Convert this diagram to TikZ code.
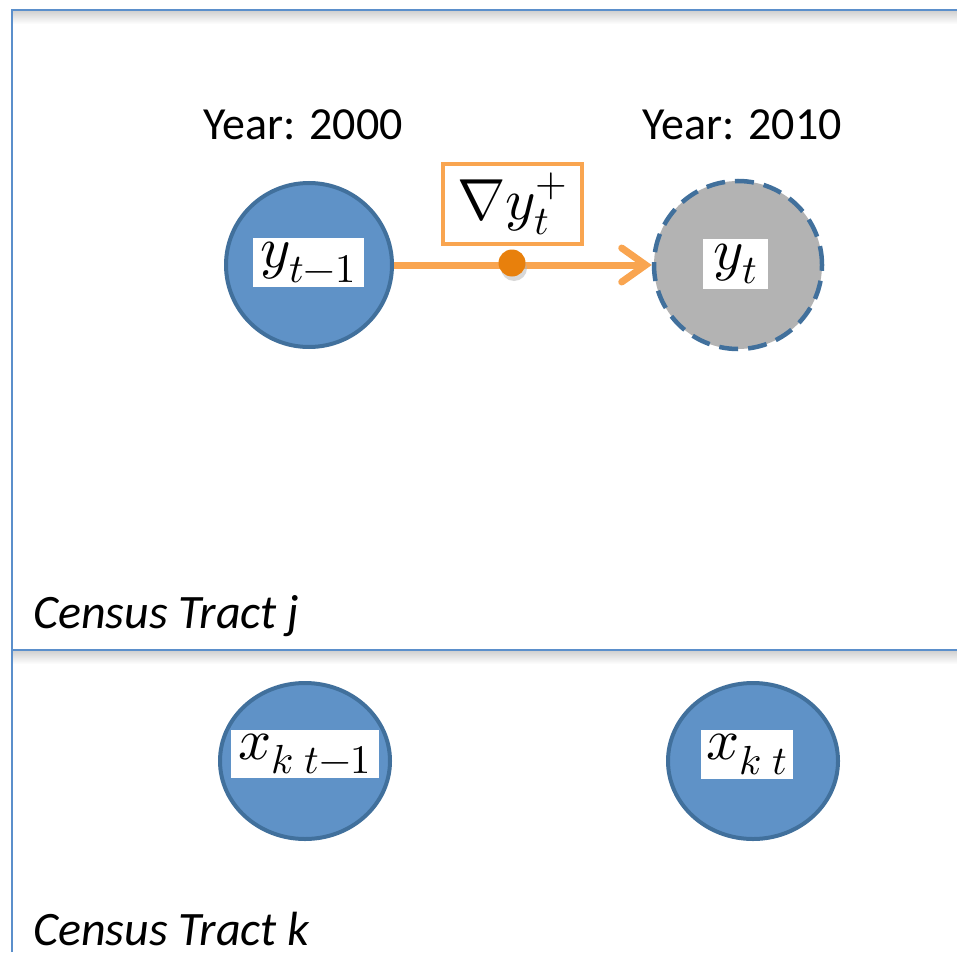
\documentclass[tikz,border=0pt]{standalone}
\usepackage{fontspec}
\usepackage{unicode-math}
\setmathfont{Latin Modern Math}
\newfontfamily\carl{Carlito}
\usetikzlibrary{arrows.meta,shapes.geometric}
\definecolor{cfill}{HTML}{5F92C7}
\definecolor{cline}{HTML}{41709C}
\definecolor{frameblue}{HTML}{5B8FCB}
\definecolor{oline}{HTML}{F9A550}
\definecolor{odot}{HTML}{E8800C}
\definecolor{gfill}{HTML}{B3B3B3}
\tikzset{
  bluecirc/.style={ellipse, draw=cline, fill=cfill, line width=4pt, inner sep=0pt},
  graycirc/.style={circle, draw=cline, fill=gfill, line width=4.5pt, dash pattern=on 19pt off 10pt, inner sep=0pt},
  lab/.style={fill=white, inner sep=0pt, font=\fontsize{58}{66}\selectfont},
  obox/.style={draw=oline, fill=white, line width=4pt, inner sep=0pt, font=\fontsize{58}{66}\selectfont},
  yeartext/.style={font=\carl\fontsize{46}{54}\selectfont},
  tracttext/.style={font=\carl\itshape\fontsize{48}{56}\selectfont, anchor=base west, inner sep=0pt},
  frameline/.style={draw=frameblue, line width=2pt},
  oarrow/.style={draw=oline, line width=7pt, -{Straight Barb[length=24pt,width=34pt,line cap=round]}},
  odotst/.style={circle, fill=odot, minimum size=27pt, inner sep=0pt},
}
\begin{document}
\begin{tikzpicture}[x=1pt,y=-1pt]
\useasboundingbox (0,0) rectangle (957,952);
% shadows
\shade[top color=black!18, bottom color=white] (13,11) rectangle (957,24);
\shade[top color=black!18, bottom color=white] (13,651) rectangle (957,664);
% frame
\draw[frameline] (12,952) -- (12,10) -- (957,10);
\draw[frameline] (12,650) -- (957,650);
% year labels
\node[yeartext] (yr1) at (303,125) {Year: 2000};
\node[yeartext] (yr2) at (742,125) {Year: 2010};
% circles
\node[bluecirc, minimum width=166pt, minimum height=164pt] (y1) at (309,265) {};
\node[graycirc, minimum size=168pt] (y2) at (738,265) {};
\node[bluecirc, minimum width=170pt, minimum height=156pt] (x1) at (305,761) {};
\node[bluecirc, minimum width=170pt, minimum height=156pt] (x2) at (753,761) {};
% labels
\node[lab, minimum width=111pt, minimum height=49pt] (l1) at (308.5,262.5) {$y_{t-1}$};
\node[lab, minimum width=65pt, minimum height=50pt] (l2) at (735.5,264) {$y_t$};
\node[lab, minimum width=148pt, minimum height=48pt] (l3) at (305,754) {$x_{k\;t-1}$};
\node[lab, minimum width=92pt, minimum height=49pt] (l4) at (747,754.5) {$x_{k\;t}$};
% arrow
\draw[oarrow] (y1) -- (y2);
\node[obox, minimum width=139pt, minimum height=80pt] (g) at (512.5,204) {$\nabla y_t^{+}$};
\fill[black!30, opacity=0.5] (514,268) circle (13pt);
\node[odotst] (d) at (512,263) {};
% tract labels
\node[tracttext] (tj) at (33,628) {Census Tract j};
\node[tracttext] (tk) at (33,945) {Census Tract k};
\end{tikzpicture}
\end{document}
